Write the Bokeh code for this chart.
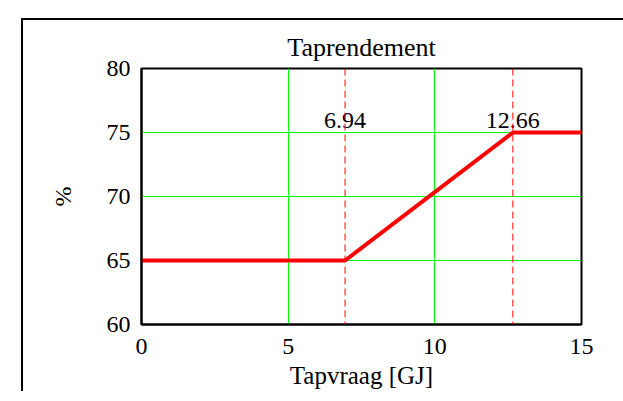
from bokeh.plotting import figure
from bokeh.models import Range1d, FixedTicker, Span
from bokeh.core.properties import value
from bokeh.embed import file_html
from bokeh.resources import INLINE

# data
x_pts = [0, 6.94, 12.66, 15]
y_pts = [65, 65, 75, 75]
breakpoints = [6.94, 12.66]
break_labels = ["6.94", "12.66"]
x_ticks = [0, 5, 10, 15]
y_ticks = [60, 65, 70, 75, 80]
title_text = "Taprendement"
x_label = "Tapvraag [GJ]"
y_label = "%"

FONT = "Liberation Serif"
GREEN = "#00ff00"
RED = "#ff0000"

p = figure(frame_width=440, frame_height=256, output_backend="svg", toolbar_location=None,
           x_range=Range1d(0, 15), y_range=Range1d(60, 80),
           min_border_left=118, min_border_right=42, min_border_top=48, min_border_bottom=66,
           margin=(18, 0, 0, 21),
           styles={"border-left": "2px solid black", "border-top": "2px solid black"},
           title=title_text)

p.title.align = "center"
p.title.text_font = FONT
p.title.text_font_size = "26px"
p.title.text_font_style = "normal"
p.title.text_color = "black"
p.title.standoff = 14

p.background_fill_color = "white"
p.border_fill_color = "white"
p.outline_line_color = "black"
p.outline_line_width = 2
p.outline_line_alpha = 1

p.xaxis.ticker = FixedTicker(ticks=x_ticks)
p.yaxis.ticker = FixedTicker(ticks=y_ticks)
for ax in (p.xaxis[0], p.yaxis[0]):
    ax.major_tick_line_color = None
    ax.minor_tick_line_color = None
    ax.axis_line_color = "black"
    ax.axis_line_width = 2
    ax.major_label_text_font = FONT
    ax.major_label_text_font_size = "24px"
    ax.major_label_text_color = "black"
    ax.axis_label_text_font = FONT
    ax.axis_label_text_font_size = "25px"
    ax.axis_label_text_font_style = "normal"
    ax.axis_label_text_color = "black"
p.xaxis.axis_label = x_label
p.yaxis.axis_label = y_label
p.yaxis.axis_label_text_font_size = "24px"
p.xaxis.major_label_standoff = 8
p.yaxis.major_label_standoff = 5
p.xaxis.axis_label_standoff = 5
p.yaxis.axis_label_standoff = 28

for g in (p.xgrid[0], p.ygrid[0]):
    g.grid_line_color = GREEN
    g.grid_line_width = 1
    g.grid_line_alpha = 1.0
p.xgrid[0].ticker = FixedTicker(ticks=x_ticks)
p.ygrid[0].ticker = FixedTicker(ticks=y_ticks)

for bp in breakpoints:
    p.add_layout(Span(location=bp, dimension="height", line_color=RED,
                      line_width=1, line_dash="7 4"))

p.line(x_pts, y_pts, line_color=RED, line_width=4)

p.text(x=breakpoints, y=[y_pts[-1]] * len(breakpoints), text=break_labels,
       text_align="center", text_baseline="alphabetic", y_offset=-12,
       text_font=value(FONT), text_font_size="24px", text_color="black")

open("out.html", "w").write(file_html(p, INLINE))
